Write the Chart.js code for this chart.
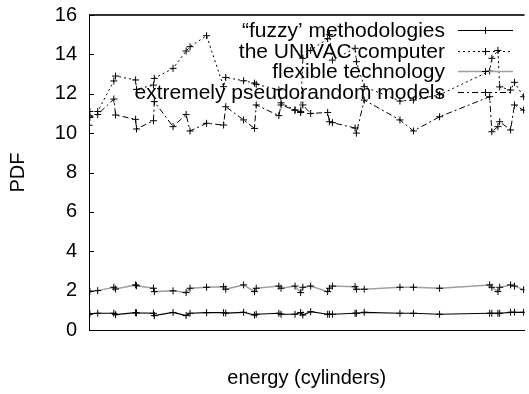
<!DOCTYPE html>
<html>
<head>
<meta charset="utf-8">
<script src="https://cdn.jsdelivr.net/npm/chart.js@4"></script>
<style>
  html, body { margin: 0; padding: 0; background: #fff; }
  #wrap { width: 529px; height: 394px; }
</style>
</head>
<body>
<div id="wrap"><canvas id="chart"></canvas></div>
<script>
// x positions (energy, no tick labels on the original axis)
const energy = [0, 0.2, 2.0, 5.7, 6.1, 10.7, 10.9, 14.8, 15.0, 19.3, 22.3, 23.2, 27.0, 30.9, 31.4,
  35.5, 38.0, 38.4, 43.6, 44.1, 47.3, 48.6, 49.1, 50.9, 54.8, 55.2, 55.9, 61.1, 61.4, 63.2,
  71.4, 74.5, 80.5, 92.0, 92.5, 93.9, 94.3, 96.8, 97.7, 99.8, 101.4];

const fuzzy = [0.80, 0.82, 0.85, 0.85, 0.78, 0.88, 0.87, 0.85, 0.73, 0.89, 0.73, 0.85, 0.88, 0.88, 0.86,
  0.90, 0.76, 0.80, 0.85, 0.80, 0.80, 0.89, 0.76, 0.93, 0.80, 0.80, 0.80, 0.85, 0.85, 0.90,
  0.85, 0.85, 0.80, 0.85, 0.85, 0.85, 0.85, 0.90, 0.90, 0.90, 0.90];

const univac = [10.4, 11.1, 11.1, 12.65, 12.9, 12.7, 12.22, 12.44, 12.78, 13.29, 14.17, 14.39, 14.95, 12.36, 12.83,
  12.66, 12.54, 12.48, 12.2, 11.54, 11.17, 11.09, 13.8, 14.2, 14.8, 15.0, 13.71, 14.31, 13.63, 12.36,
  11.63, 11.68, 11.95, 13.15, 13.8, 14.2, 12.35, 12.19, 12.58, 11.85, 11.5];

const flexible = [1.95, 1.97, 2.00, 2.17, 2.08, 2.29, 2.25, 2.12, 1.95, 1.99, 1.90, 2.12, 2.17, 2.20, 2.07,
  2.29, 1.95, 2.12, 2.23, 2.12, 2.23, 1.90, 2.17, 2.23, 1.95, 2.12, 2.23, 2.20, 2.07, 2.07,
  2.17, 2.17, 2.12, 2.29, 2.17, 1.95, 2.17, 2.29, 2.23, 2.05, 2.00];

const pseudorandom = [10.9, 10.8, 10.95, 11.73, 10.92, 10.7, 10.21, 10.63, 11.6, 10.33, 10.95, 10.11, 10.5, 10.41, 11.34,
  10.67, 10.24, 11.43, 10.89, 11.43, 11.17, 11.05, 11.43, 11.0, 11.05, 10.58, 10.53, 10.26, 10.0, 11.68,
  10.67, 10.11, 10.83, 11.85, 10.07, 10.33, 10.58, 10.16, 11.43, 11.17, 11.0];

const seriesNames = ['\u201cfuzzy\u2019 methodologies', 'the UNIVAC computer', 'flexible technology', 'extremely pseudorandom models'];
const yTicks = [0, 2, 4, 6, 8, 10, 12, 14, 16];

const FONT = 'Liberation Sans, Arial, Helvetica, sans-serif';

function toPoints(ys) {
  return ys.map((y, i) => ({ x: energy[i], y: y }));
}

function makeSet(label, ys, color, dash, width) {
  return {
    label: label,
    data: toPoints(ys),
    borderColor: color,
    backgroundColor: color,
    borderWidth: width,
    borderDash: dash,
    pointStyle: 'cross',
    pointRadius: 3.5,
    pointBorderColor: '#000',
    pointBorderWidth: 1,
    pointHoverRadius: 3.5,
    tension: 0,
    fill: false
  };
}

// gnuplot style frame, inward ticks and key
const gnuplotFrame = {
  id: 'gnuplotFrame',
  afterDraw(chart) {
    const ctx = chart.ctx;
    const area = chart.chartArea;
    const y = chart.scales.y;
    ctx.save();
    // top border
    ctx.strokeStyle = '#333';
    ctx.lineWidth = 2;
    ctx.beginPath();
    ctx.moveTo(area.left, area.top);
    ctx.lineTo(area.right, area.top);
    ctx.stroke();
    // inward y ticks
    ctx.strokeStyle = '#000';
    ctx.lineWidth = 1;
    y.ticks.forEach(t => {
      const py = Math.round(y.getPixelForValue(t.value)) + 0.5;
      ctx.beginPath();
      ctx.moveTo(area.left, py);
      ctx.lineTo(area.left + 5, py);
      ctx.stroke();
    });
    // key
    ctx.font = '21px ' + FONT;
    ctx.textAlign = 'right';
    ctx.textBaseline = 'middle';
    const rowY = [31, 52, 72, 93];
    chart.data.datasets.forEach((ds, i) => {
      const ry = rowY[i];
      ctx.fillStyle = '#000';
      ctx.fillText(ds.label, 445, ry);
      ctx.strokeStyle = ds.borderColor;
      ctx.lineWidth = ds.borderWidth;
      ctx.setLineDash(ds.borderDash || []);
      ctx.beginPath();
      ctx.moveTo(458, ry - 0.5);
      ctx.lineTo(513, ry - 0.5);
      ctx.stroke();
      ctx.setLineDash([]);
      ctx.strokeStyle = '#000';
      ctx.lineWidth = 1;
      ctx.beginPath();
      ctx.moveTo(482, ry - 0.5);
      ctx.lineTo(489, ry - 0.5);
      ctx.moveTo(485.5, ry - 4);
      ctx.lineTo(485.5, ry + 3);
      ctx.stroke();
    });
    ctx.restore();
  }
};

new Chart(document.getElementById('chart'), {
  type: 'line',
  data: {
    datasets: [
      makeSet(seriesNames[0], fuzzy, '#000', [], 1.2),
      makeSet(seriesNames[1], univac, '#000', [2, 3], 1),
      makeSet(seriesNames[2], flexible, '#a0a0a0', [], 1.5),
      makeSet(seriesNames[3], pseudorandom, '#000', [6, 3, 2, 3], 1)
    ]
  },
  options: {
    responsive: true,
    maintainAspectRatio: false,
    animation: false,
    layout: { padding: { top: 15, right: 0, bottom: 0, left: 0 } },
    plugins: {
      legend: { display: false },
      tooltip: { enabled: false }
    },
    scales: {
      x: {
        type: 'linear',
        min: 0,
        max: 100,
        grid: { display: false },
        border: { display: true, color: '#000', width: 1 },
        ticks: { display: false },
        title: {
          display: true,
          text: 'energy (cylinders)',
          color: '#000',
          font: { family: FONT, size: 20 },
          padding: { top: 0, bottom: 4 }
        },
        afterFit: s => { s.height = 64; }
      },
      y: {
        min: 0,
        max: 16,
        afterBuildTicks: s => { s.ticks = yTicks.map(v => ({ value: v })); },
        grid: { display: false, drawTicks: false },
        border: { display: true, color: '#000', width: 1 },
        ticks: {
          color: '#000',
          padding: 12,
          font: { family: FONT, size: 20 }
        },
        title: {
          display: true,
          text: 'PDF',
          color: '#000',
          font: { family: FONT, size: 20 },
          padding: { top: 6, bottom: 0 }
        },
        afterFit: s => {
          s.width = 89;
          s.paddingTop = 0;
          s.paddingBottom = 0;
        }
      }
    }
  },
  plugins: [gnuplotFrame]
});
</script>
</body>
</html>
